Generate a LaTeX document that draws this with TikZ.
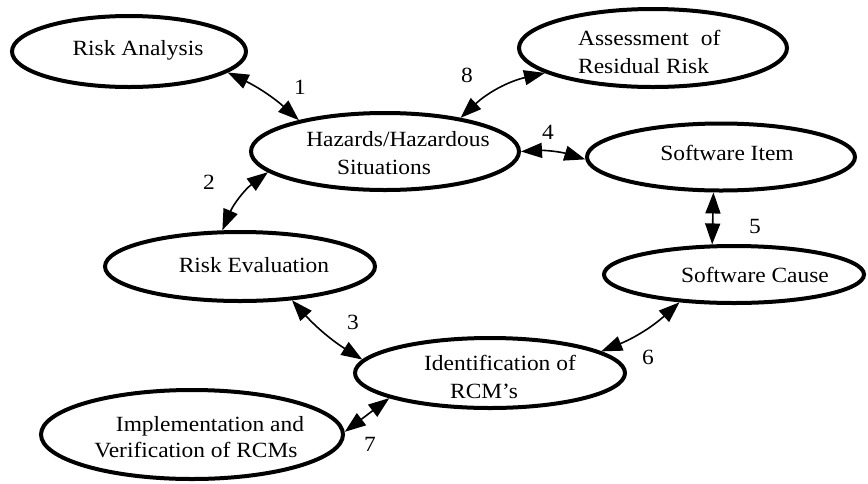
\documentclass[tikz,border=0pt]{standalone}
\usepackage{fontspec}
\setmainfont{Liberation Serif}[FakeStretch=1.08]
\usetikzlibrary{arrows.meta,shapes.geometric}
\tikzset{
  oval/.style={draw=black, line width=4pt, ellipse, inner sep=0pt},
  lbl/.style={inner sep=0pt, anchor=base, font=\fontsize{21.7}{28}\selectfont},
  num/.style={inner sep=0pt, anchor=center, font=\fontsize{21.7}{28}\selectfont},
  arr/.style={line width=1.6pt, {Triangle[length=21pt,width=15pt]}-{Triangle[length=21pt,width=15pt]}}
}
\begin{document}
\begin{tikzpicture}[x=1pt,y=-1pt]
\useasboundingbox (0,0) rectangle (868,483);
% ellipses
\node[oval, minimum width=234pt, minimum height=71pt] (ra) at (129,51.5) {};
\node[oval, minimum width=268pt, minimum height=77pt] (hz) at (385,151.5) {};
\node[oval, minimum width=268pt, minimum height=78pt] (as) at (653,48) {};
\node[oval, minimum width=268pt, minimum height=67pt] (si) at (721,157) {};
\node[oval, minimum width=270pt, minimum height=69pt] (re) at (240,266.5) {};
\node[oval, minimum width=260pt, minimum height=57pt] (sc) at (734,274.5) {};
\node[oval, minimum width=270pt, minimum height=70pt] (id) at (490,373) {};
\node[oval, minimum width=302pt, minimum height=89pt] (im) at (192,434.5) {};
% texts
\node[lbl] (raT) at (138,55) {Risk Analysis};
\node[lbl] (hzA) at (398,146) {Hazards/Hazardous};
\node[lbl] (hzB) at (384,174) {Situations};
\node[lbl, anchor=base west] (asA) at (578,45) {Assessment\hspace{12pt}of};
\node[lbl, anchor=base west] (asB) at (578,73) {Residual Risk};
\node[lbl] (siT) at (727,160) {Software Item};
\node[lbl] (scT) at (755,282) {Software Cause};
\node[lbl] (reT) at (254,272) {Risk Evaluation};
\node[lbl] (idA) at (500,370) {Identification of};
\node[lbl] (idB) at (484,398) {RCM’s};
\node[lbl] (imA) at (210,431) {Implementation and};
\node[lbl] (imB) at (196,457) {Verification of RCMs};
% numbers
\node[num] (n1) at (300,87) {1};
\node[num] (n2) at (209,182) {2};
\node[num] (n8) at (467,75) {8};
\node[num] (n4) at (548,132) {4};
\node[num] (n5) at (755,226) {5};
\node[num] (n3) at (353,322) {3};
\node[num] (n6) at (648,357) {6};
\node[num] (n7) at (370,444) {7};
% connectors
\draw[arr] (ra.-12.7) to[bend left=8] (hz.160.7);
\draw[arr] (hz.-170.4) to[bend right=15] (re.116.3);
\draw[arr] (hz.24) to[bend left=15] (as.-167.6);
\draw[arr] (hz.-0.6) to[bend left=10] (si.-179);
\draw[arr] (si.-102.9) -- (sc.126.4);
\draw[arr] (re.-33.8) to[bend right=8] (id.174.8);
\draw[arr] (id.11.9) to[bend right=10] (sc.-153.4);
\draw[arr] (id.-166.6) -- (im.1.7);
\end{tikzpicture}
\end{document}
